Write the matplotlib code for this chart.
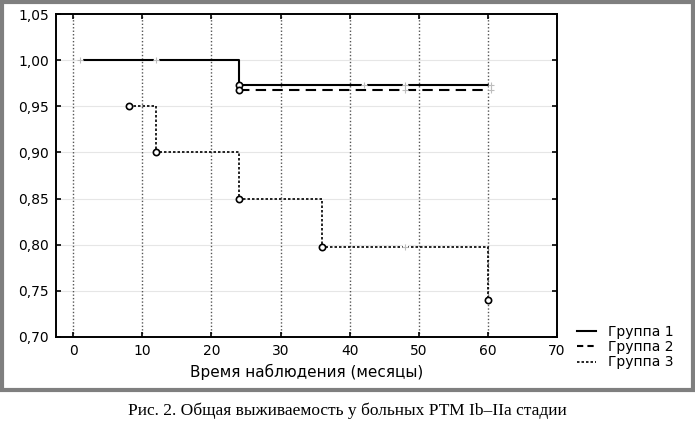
import matplotlib
matplotlib.use("Agg")
import matplotlib.pyplot as plt
from matplotlib.patches import Rectangle
from matplotlib.lines import Line2D
from matplotlib.ticker import FuncFormatter

# Kaplan-Meier steps (месяцы, доля выживших)
g1_t = [1, 24, 60]
g1_s = [1.0, 0.973, 0.973]
g2_t = [24, 60]
g2_s = [0.968, 0.968]
g3_t = [8, 12, 24, 36, 60]
g3_s = [0.95, 0.90, 0.85, 0.797, 0.74]

# events (circles)
g1_ev_t, g1_ev_s = [24], [0.973]
g2_ev_t, g2_ev_s = [24], [0.968]
g3_ev_t, g3_ev_s = [8, 12, 24, 36, 60], [0.95, 0.90, 0.85, 0.797, 0.74]

# censored observations
g1_cens_t = [1, 12, 42, 48, 60.5]
g2_cens_t = [48, 60.5]
g3_cens_t = [48]

labels = ["Группа 1", "Группа 2", "Группа 3"]
xticks = [0, 10, 20, 30, 40, 50, 60, 70]
yticks = [0.70, 0.75, 0.80, 0.85, 0.90, 0.95, 1.00, 1.05]

fig = plt.figure(figsize=(6.95, 4.25), dpi=100)

# grey frame round the chart panel
fig.patches.append(Rectangle((1.5 / 695, (425 - 390) / 425), 691 / 695, 388 / 425,
                             transform=fig.transFigure, fill=False,
                             edgecolor="#7f7f7f", linewidth=3))

ax = fig.add_axes([56 / 695, 88 / 425, 501 / 695, 323 / 425])
ax.set_xlim(-2.5, 70)
ax.set_ylim(0.70, 1.05)
ax.set_xticks(xticks)
ax.set_yticks(yticks)
ax.yaxis.set_major_formatter(FuncFormatter(lambda v, p: f"{v:.2f}".replace(".", ",")))
ax.tick_params(direction="in", length=3.5, width=1.2, labelsize=10,
               top=True, right=True, pad=5)
for sp in ax.spines.values():
    sp.set_linewidth(1.4)

# grid
for y in yticks[1:-1]:
    ax.axhline(y, color="#e6e6e6", lw=0.8, zorder=0)
for x in xticks[:-1]:
    ax.axvline(x, color="#555555", lw=1, ls=(0, (1, 1.5)), zorder=0)

ax.step(g1_t, g1_s, where="post", color="black", lw=1.5, zorder=3)
ax.step(g2_t, g2_s, where="post", color="black", lw=1.5, ls=(0, (5, 3)), zorder=3)
ax.step(g3_t, g3_s, where="post", color="black", lw=1.2, ls=(0, (1.5, 1.2)), zorder=3)

def censor(ts, ss):
    ax.plot(ts, ss, ls="none", marker="s", ms=3.5, mfc="white", mec="white", zorder=4)
    ax.plot(ts, ss, ls="none", marker="+", ms=4, mec="#bdbdbd", mew=0.8, zorder=5)

censor(g1_cens_t, [g1_s[-1] if t > 24 else 1.0 for t in g1_cens_t])
censor(g2_cens_t, [0.968] * len(g2_cens_t))
censor(g3_cens_t, [0.797] * len(g3_cens_t))

for ts, ss in [(g1_ev_t, g1_ev_s), (g2_ev_t, g2_ev_s), (g3_ev_t, g3_ev_s)]:
    ax.plot(ts, ss, ls="none", marker="o", ms=4.5, mfc="white", mec="black",
            mew=1.2, zorder=6)

ax.set_xlabel("Время наблюдения (месяцы)", fontsize=11, labelpad=4)

handles = [Line2D([], [], color="black", lw=1.5),
           Line2D([], [], color="black", lw=1.5, ls=(0, (3, 2))),
           Line2D([], [], color="black", lw=1.2, ls=(0, (1.5, 1.2)))]
fig.legend(handles, labels, loc="center left", bbox_to_anchor=(571 / 695, (425 - 347) / 425),
           frameon=False, fontsize=10, handlelength=1.4, handletextpad=0.9,
           labelspacing=0.1, borderaxespad=0)

fig.text(0.5, (425 - 411) / 425, "Рис. 2. Общая выживаемость у больных РТМ Ib–IIa стадии",
         ha="center", va="center", fontsize=12.5, family="Liberation Serif")

fig.savefig("out.png", dpi=100)
